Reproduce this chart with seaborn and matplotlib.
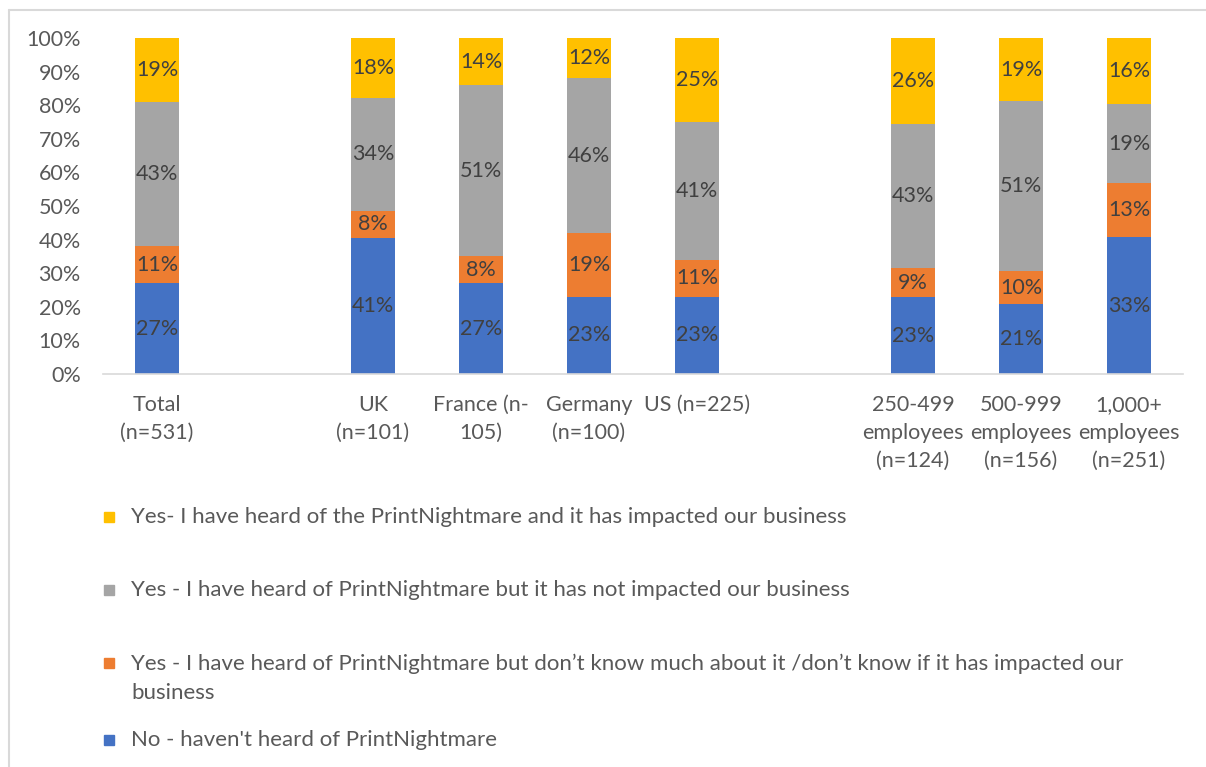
import numpy as np
import pandas as pd
import matplotlib.pyplot as plt
import matplotlib.patches as mpatches
from matplotlib.lines import Line2D
import seaborn as sns

# groups (empty slots at 1 and 6 leave the gaps between the groups)
positions = [0, 2, 3, 4, 5, 7, 8, 9]
categories = ['Total\n(n=531)', 'UK\n(n=101)', 'France (n-\n105)', 'Germany\n(n=100)',
              'US (n=225)', '250-499\nemployees\n(n=124)', '500-999\nemployees\n(n=156)',
              '1,000+\nemployees\n(n=251)']

# shares as printed on the chart (bars are 100% stacked)
no_heard = [27, 41, 27, 23, 23, 23, 21, 33]
dont_know = [11, 8, 8, 19, 11, 9, 10, 13]
not_impacted = [43, 34, 51, 46, 41, 43, 51, 19]
impacted = [19, 18, 14, 12, 25, 26, 19, 16]

series_names = ["No - haven't heard of PrintNightmare",
                "Yes - I have heard of PrintNightmare but don\u2019t know much about it /don\u2019t know if it has impacted our\nbusiness",
                "Yes - I have heard of PrintNightmare but it has not impacted our business",
                "Yes- I have heard of the PrintNightmare and it has impacted our business"]
colors = ['#4472C4', '#ED7D31', '#A5A5A5', '#FFC000']

sns.set_theme(style='white')
plt.rcParams['font.family'] = ['Lato', 'DejaVu Sans']

df = pd.DataFrame({'pos': positions, 'no': no_heard, 'dk': dont_know,
                   'ni': not_impacted, 'im': impacted})
cols = ['no', 'dk', 'ni', 'im']
total = df[cols].sum(axis=1)
shares = df[cols].div(total, axis=0)
cum = shares.cumsum(axis=1)

fig = plt.figure(figsize=(12.06, 7.67), dpi=100)
ax = fig.add_axes([103 / 1206, 1 - 374 / 767, 1080 / 1206, 336 / 767])

# draw cumulative bars from the top layer down so the lower layers sit on top
for col, color in reversed(list(zip(cols, colors))):
    sns.barplot(x=df['pos'], y=cum[col], native_scale=True, width=0.4,
                color=color, saturation=1, ax=ax, linewidth=0)

# data labels
for i, p in enumerate(positions):
    for col in cols:
        y = cum[col].iloc[i] - shares[col].iloc[i] / 2
        ax.text(p, y, f"{df[col].iloc[i]}%", ha='center', va='center',
                fontsize=15.5, color='#404040')

ax.set_xlim(-0.5, 9.5)
ax.set_ylim(0, 1)
ax.set_yticks(np.arange(0, 1.01, 0.1))
ax.set_yticklabels([f"{int(round(v * 100))}%" for v in np.arange(0, 1.01, 0.1)],
                   fontsize=15.5, color='#595959')
ax.set_xticks(positions)
ax.set_xticklabels(categories, fontsize=15.5, color='#595959', linespacing=1.5, va='top')
ax.tick_params(axis='both', length=0)
ax.tick_params(axis='x', pad=15)
ax.tick_params(axis='y', pad=16)
ax.set_xlabel('')
ax.set_ylabel('')
for s in ['top', 'right', 'left']:
    ax.spines[s].set_visible(False)
ax.spines['bottom'].set_color('#D9D9D9')
ax.spines['bottom'].set_linewidth(1.2)

# legend, top entry first, placed like the original
W, H = 1206, 767
legend_rows = [(3, 517, 517), (2, 590, 590), (1, 663, 678), (0, 740, 740)]
for idx, ypix, ytext in legend_rows:
    fig.patches.append(mpatches.Rectangle((104 / W, 1 - (ypix + 5) / H), 10 / W, 10 / H,
                                          transform=fig.transFigure, color=colors[idx]))
    fig.text(131 / W, 1 - ytext / H, series_names[idx], ha='left', va='center',
             fontsize=16, color='#595959', linespacing=1.55)

# frame lines on top and left
fig.add_artist(Line2D([8.5 / W, 8.5 / W], [0, 1 - 9.5 / H], transform=fig.transFigure,
                      color='#D9D9D9', linewidth=1.5))
fig.add_artist(Line2D([8.5 / W, 1], [1 - 9.5 / H, 1 - 9.5 / H], transform=fig.transFigure,
                      color='#D9D9D9', linewidth=1.5))

fig.savefig('out.png', dpi=100)
